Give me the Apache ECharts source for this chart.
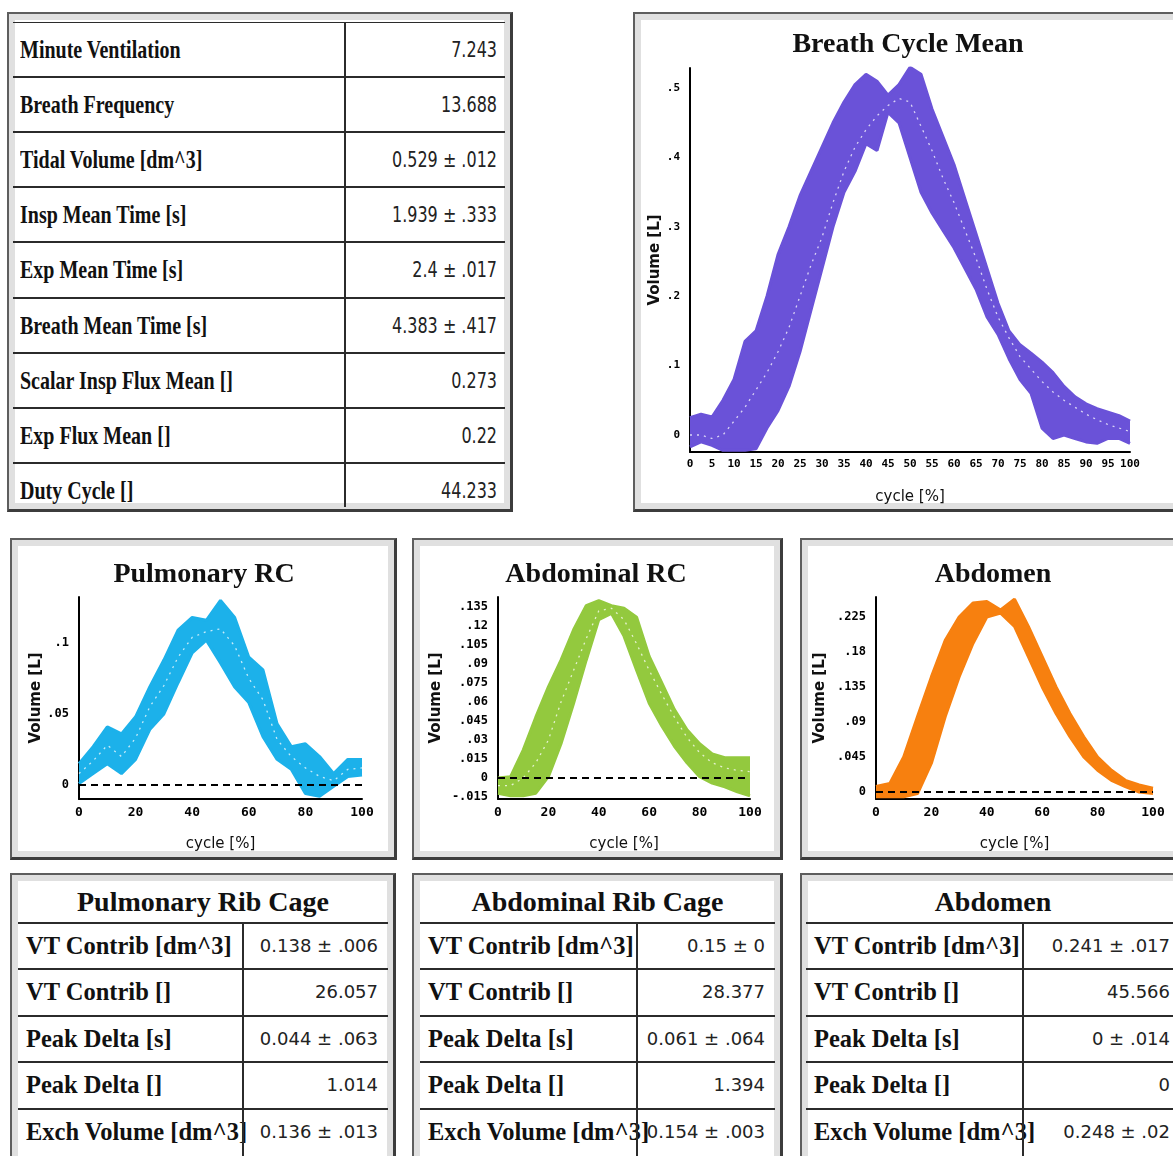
<!DOCTYPE html>
<html>
<head>
<meta charset="utf-8">
<title>Breath Cycle Dashboard</title>
<script src="https://cdn.jsdelivr.net/npm/echarts@6/dist/echarts.min.js"></script>
<style>
  body { margin: 0; background: #fff; }
  #page { position: relative; width: 1173px; height: 1156px; overflow: hidden; background: #fff; }
  .panel {
    position: absolute; box-sizing: border-box; background: #fff;
    border: 2px solid #5e5e5e; border-right: 3px solid #3c3c3c; border-bottom: 3px solid #3c3c3c;
    box-shadow: inset 0 0 0 6px #e0e0e0;
  }
  .tbl { position: absolute; overflow: hidden; }
  .hline { position: absolute; left: 0; right: 0; height: 2px; background: #2b2b2b; }
  .vline { position: absolute; width: 2px; background: #2b2b2b; }
  .lab { position: absolute; white-space: nowrap; font-family: "Liberation Serif"; font-weight: bold; color: #111; }
  .val { position: absolute; white-space: nowrap; font-family: "DejaVu Sans"; color: #222; text-align: right; }
  .head { position: absolute; left: 0; right: 0; text-align: center; font-family: "Liberation Serif"; font-weight: bold; color: #111; }
  #chart { position: absolute; left: 0; top: 0; width: 1173px; height: 1156px; }
</style>
</head>
<body>
<div id="page">
  <div class="panel" style="left:7px;top:12px;width:506px;height:500px"></div>
  <div class="panel" style="left:633px;top:12px;width:560px;height:500px"></div>
  <div class="panel" style="left:10px;top:538px;width:387px;height:322px"></div>
  <div class="panel" style="left:412px;top:538px;width:371px;height:322px"></div>
  <div class="panel" style="left:800px;top:538px;width:400px;height:322px"></div>
  <div class="panel" style="left:10px;top:873px;width:386px;height:300px"></div>
  <div class="panel" style="left:412px;top:873px;width:371px;height:300px"></div>
  <div class="panel" style="left:800px;top:873px;width:400px;height:300px"></div>
  <div id="chart"></div>
</div>
<script>
// ---- table data ----
const mainLabels = [
  "Minute Ventilation", "Breath Frequency", "Tidal Volume [dm^3]",
  "Insp Mean Time [s]", "Exp Mean Time [s]", "Breath Mean Time [s]",
  "Scalar Insp Flux Mean []", "Exp Flux Mean []", "Duty Cycle []"
];
const mainValues = [
  "7.243", "13.688", "0.529 ± .012", "1.939 ± .333", "2.4 ± .017",
  "4.383 ± .417", "0.273", "0.22", "44.233"
];
const partLabels = ["VT Contrib [dm^3]", "VT Contrib []", "Peak Delta [s]", "Peak Delta []", "Exch Volume [dm^3]"];
const pulmonaryValues = ["0.138 ± .006", "26.057", "0.044 ± .063", "1.014", "0.136 ± .013"];
const abdominalRcValues = ["0.15 ± 0", "28.377", "0.061 ± .064", "1.394", "0.154 ± .003"];
const abdomenValues = ["0.241 ± .017", "45.566", "0 ± .014", "0", "0.248 ± .02"];

// ---- chart data (volume in L vs cycle %) ----
const cycleFine = [0, 2.5, 5, 7.5, 10, 12.5, 15, 17.5, 20, 22.5, 25, 27.5, 30, 32.5, 35, 37.5, 40, 42.5, 45, 47.5, 50,
  52.5, 55, 57.5, 60, 62.5, 65, 67.5, 70, 72.5, 75, 77.5, 80, 82.5, 85, 87.5, 90, 92.5, 95, 97.5, 100];
const cycleCoarse = [0, 5, 10, 15, 20, 25, 30, 35, 40, 45, 50, 55, 60, 65, 70, 75, 80, 85, 90, 95, 100];

const breathUpper = [0.025, 0.03, 0.026, 0.05, 0.08, 0.135, 0.15, 0.2, 0.26, 0.3, 0.345, 0.38, 0.415, 0.45, 0.48, 0.505, 0.52,
  0.51, 0.49, 0.505, 0.53, 0.52, 0.47, 0.43, 0.39, 0.34, 0.29, 0.24, 0.19, 0.15, 0.13, 0.118, 0.105, 0.09, 0.07, 0.055,
  0.045, 0.038, 0.033, 0.028, 0.02];
const breathLower = [-0.017, -0.01, -0.015, -0.022, -0.022, -0.022, -0.02, 0.01, 0.035, 0.07, 0.12, 0.18, 0.24, 0.3, 0.35,
  0.38, 0.42, 0.41, 0.465, 0.45, 0.4, 0.35, 0.32, 0.295, 0.27, 0.24, 0.21, 0.17, 0.145, 0.11, 0.08, 0.06, 0.01, -0.005,
  0.0, -0.005, -0.01, -0.012, -0.005, -0.005, -0.012];
const breathTrace = [0.0, 0.0, -0.005, 0.0, 0.02, 0.04, 0.065, 0.09, 0.12, 0.155, 0.2, 0.245, 0.285, 0.335, 0.38, 0.415,
  0.44, 0.46, 0.475, 0.485, 0.48, 0.445, 0.41, 0.37, 0.335, 0.295, 0.255, 0.21, 0.17, 0.14, 0.113, 0.095, 0.077, 0.062,
  0.05, 0.04, 0.03, 0.022, 0.015, 0.01, 0.005];

const pulmUpper = [0.015, 0.027, 0.041, 0.036, 0.048, 0.069, 0.088, 0.109, 0.118, 0.116, 0.13, 0.118, 0.09, 0.081,
  0.043, 0.027, 0.029, 0.02, 0.008, 0.018, 0.018];
const pulmLower = [0.001, 0.008, 0.015, 0.008, 0.018, 0.039, 0.05, 0.072, 0.093, 0.102, 0.086, 0.069, 0.058, 0.034,
  0.018, 0.011, -0.006, -0.008, -0.001, 0.006, 0.007];
const pulmTrace = [0.008, 0.017, 0.028, 0.02, 0.033, 0.055, 0.07, 0.09, 0.104, 0.108, 0.11, 0.098, 0.075, 0.06, 0.032,
  0.02, 0.012, 0.006, 0.003, 0.011, 0.012];

const abdRcUpper = [0.0, 0.001, 0.022, 0.048, 0.072, 0.093, 0.117, 0.136, 0.14, 0.136, 0.134, 0.127, 0.096, 0.075,
  0.054, 0.038, 0.027, 0.019, 0.016, 0.016, 0.016];
const abdRcLower = [-0.012, -0.014, -0.014, -0.012, 0.001, 0.027, 0.059, 0.093, 0.125, 0.13, 0.112, 0.085, 0.059, 0.041,
  0.025, 0.012, 0.001, -0.004, -0.007, -0.011, -0.014];
const abdRcTrace = [-0.006, -0.006, 0.0, 0.012, 0.03, 0.06, 0.085, 0.11, 0.132, 0.134, 0.125, 0.106, 0.085, 0.066,
  0.048, 0.032, 0.02, 0.012, 0.008, 0.006, 0.005];

const abdomenUpper = [0.007, 0.011, 0.045, 0.097, 0.148, 0.195, 0.225, 0.243, 0.245, 0.234, 0.248, 0.213, 0.174, 0.135,
  0.101, 0.071, 0.045, 0.028, 0.015, 0.009, 0.005];
const abdomenLower = [-0.006, -0.006, -0.006, -0.002, 0.037, 0.097, 0.148, 0.191, 0.225, 0.23, 0.213, 0.174, 0.135, 0.101,
  0.071, 0.045, 0.028, 0.015, 0.007, 0.0, -0.002];

// ---- tables (plain DOM) ----
function buildTable(cfg) {
  const page = document.getElementById("page");
  const box = document.createElement("div");
  box.className = "tbl";
  Object.assign(box.style, { left: cfg.left + "px", top: cfg.top + "px", width: cfg.width + "px", height: cfg.height + "px" });
  let html = "";
  if (cfg.header) {
    html += `<div class="head" style="top:0;height:${cfg.headerH}px;line-height:${cfg.headerH}px;font-size:${cfg.headFont}px">${cfg.header}</div>`;
  }
  cfg.labels.forEach((lab, i) => {
    const y = cfg.headerH + i * cfg.rowH;
    html += `<div class="hline" style="top:${y - 1}px"></div>`;
    html += `<div class="lab" style="left:${cfg.padL}px;top:${y}px;height:${cfg.rowH}px;line-height:${cfg.rowH}px;font-size:${cfg.labFont}px;transform:scaleY(${cfg.stretch})">${lab}</div>`;
    html += `<div class="val" style="right:${cfg.padR}px;top:${y}px;height:${cfg.rowH}px;line-height:${cfg.rowH}px;font-size:${cfg.valFont}px;transform:scaleY(${cfg.stretch})">${cfg.values[i]}</div>`;
  });
  // the divider sits on top of the text, as in the original where long labels run under it
  html += `<div class="vline" style="left:${cfg.divX - 1}px;top:${cfg.headerH}px;height:${cfg.height - cfg.headerH}px"></div>`;
  box.innerHTML = html;
  page.insertBefore(box, document.getElementById("chart"));
}

buildTable({ left: 13, top: 22, width: 492, height: 485, headerH: 0, rowH: 55.1, labels: mainLabels, values: mainValues,
  divX: 332, padL: 7, padR: 8, labFont: 20, valFont: 16, stretch: 1.3 });

const subTables = [
  { left: 18, header: "Pulmonary Rib Cage", values: pulmonaryValues, width: 370, divX: 225 },
  { left: 420, header: "Abdominal Rib Cage", values: abdominalRcValues, width: 355, divX: 217 },
  { left: 806, header: "Abdomen", values: abdomenValues, width: 374, divX: 217 }
];
subTables.forEach((t) => buildTable({ left: t.left, top: 880, width: t.width, height: 276, headerH: 43, rowH: 46.4,
  header: t.header, labels: partLabels, values: t.values, divX: t.divX, padL: 8, padR: 10,
  headFont: 28, labFont: 24.5, valFont: 18, stretch: 1.0 }));

// ---- charts ----
const chart = echarts.init(document.getElementById("chart"));

const labelFmt = (v) => (v === 0 ? "0" : String(+v.toFixed(3)).replace(/^(-?)0\./, "$1."));

function xAxisFor(gridIndex, cats, interval, fontSize) {
  return {
    type: "category", gridIndex, data: cats.map(String), boundaryGap: false,
    axisLine: { onZero: false, lineStyle: { color: "#000", width: 2 } },
    axisTick: { show: false },
    splitLine: { show: false },
    axisLabel: { interval, color: "#000", fontFamily: "DejaVu Sans Mono", fontWeight: "bold", fontSize, margin: 7 },
    name: "cycle [%]", nameLocation: "middle", nameGap: 38,
    nameTextStyle: { color: "#111", fontFamily: "DejaVu Sans", fontSize: 15 }
  };
}

function yAxisFor(gridIndex, min, max, ticks, nameGap, fontSize) {
  return {
    type: "value", gridIndex, min, max,
    axisLine: { show: true, lineStyle: { color: "#000", width: 2 } },
    axisTick: { show: false },
    splitLine: { show: false },
    axisLabel: { customValues: ticks, formatter: labelFmt, color: "#000", fontFamily: "DejaVu Sans Mono",
      fontWeight: "bold", fontSize, margin: 10 },
    name: "Volume [L]", nameLocation: "middle", nameGap, nameRotate: 90,
    nameTextStyle: { color: "#111", fontFamily: "DejaVu Sans", fontWeight: "bold", fontSize: 15 }
  };
}

// lower edge + (upper - lower) stacked on it gives the filled envelope of the cycles
function bandSeries(idx, upper, lower, trace, color, withZero) {
  const out = [
    {
      type: "line", xAxisIndex: idx, yAxisIndex: idx, stack: "band" + idx, stackStrategy: "all",
      data: lower, symbol: "none", silent: true, lineStyle: { color, width: 3 }
    },
    {
      type: "line", xAxisIndex: idx, yAxisIndex: idx, stack: "band" + idx, stackStrategy: "all",
      data: upper.map((u, i) => +(u - lower[i]).toFixed(4)), symbol: "none", silent: true,
      lineStyle: { color, width: 3 }, areaStyle: { color, opacity: 1 },
      markLine: withZero ? {
        silent: true, symbol: "none", label: { show: false },
        lineStyle: { color: "#000", type: [7, 5], width: 2 },
        data: [{ yAxis: 0 }]
      } : undefined
    }
  ];
  if (trace) {
    out.push({
      type: "line", xAxisIndex: idx, yAxisIndex: idx, data: trace, symbol: "none", silent: true, z: 3,
      lineStyle: { color: "#fff", width: 1.3, type: [2, 5], opacity: 0.75 }
    });
  }
  return out;
}

const titleFont = { fontFamily: "Liberation Serif", fontWeight: "bold", fontSize: 28, color: "#111" };

const option = {
  animation: false,
  title: [
    { text: "Breath Cycle Mean", left: 908, top: 31, textAlign: "center", padding: 0, textStyle: titleFont },
    { text: "Pulmonary RC", left: 204, top: 561, textAlign: "center", padding: 0, textStyle: titleFont },
    { text: "Abdominal RC", left: 596, top: 561, textAlign: "center", padding: 0, textStyle: titleFont },
    { text: "Abdomen", left: 993, top: 561, textAlign: "center", padding: 0, textStyle: titleFont }
  ],
  grid: [
    { left: 690, top: 68, width: 440, height: 384 },
    { left: 79, top: 597, width: 283, height: 202 },
    { left: 498, top: 597, width: 252, height: 202 },
    { left: 876, top: 597, width: 277, height: 202 }
  ],
  xAxis: [
    xAxisFor(0, cycleFine, 1, 11),
    xAxisFor(1, cycleCoarse, 3, 13),
    xAxisFor(2, cycleCoarse, 3, 13),
    xAxisFor(3, cycleCoarse, 3, 13)
  ],
  yAxis: [
    yAxisFor(0, -0.0245, 0.529, [0, 0.1, 0.2, 0.3, 0.4, 0.5], 26, 11),
    yAxisFor(1, -0.0099, 0.1324, [0, 0.05, 0.1], 32, 12),
    yAxisFor(2, -0.0166, 0.1429, [-0.015, 0, 0.015, 0.03, 0.045, 0.06, 0.075, 0.09, 0.105, 0.12, 0.135], 54, 12),
    yAxisFor(3, -0.009, 0.2507, [0, 0.045, 0.09, 0.135, 0.18, 0.225], 48, 12)
  ],
  series: [
    ...bandSeries(0, breathUpper, breathLower, breathTrace, "#6a52d8", false),
    ...bandSeries(1, pulmUpper, pulmLower, pulmTrace, "#1cb1ea", true),
    ...bandSeries(2, abdRcUpper, abdRcLower, abdRcTrace, "#93c93e", true),
    ...bandSeries(3, abdomenUpper, abdomenLower, null, "#f7800f", true)
  ]
};

chart.setOption(option);
</script>
</body>
</html>
